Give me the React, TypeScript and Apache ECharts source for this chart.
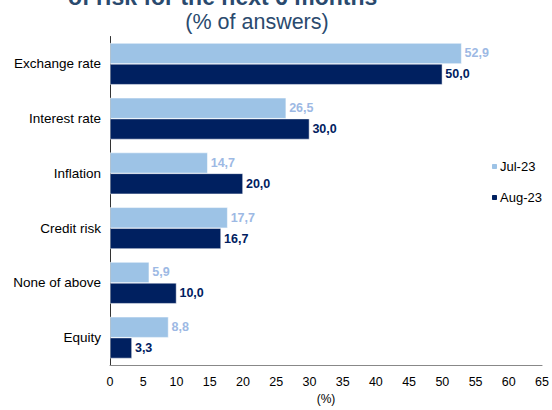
import React, { useEffect, useRef } from "react";
import * as echarts from "echarts";

const categories = ["Exchange rate", "Interest rate", "Inflation", "Credit risk", "None of above", "Equity"];
const jul23 = [52.9, 26.5, 14.7, 17.7, 5.9, 8.8];
const aug23 = [50.0, 30.0, 20.0, 16.7, 10.0, 3.3];
const seriesNames = ["Jul-23", "Aug-23"];
const titleLine1 = "of risk for the next 6 months";
const titleLine2 = "(% of answers)";

const fmt = (p: any) => Number(p.value).toFixed(1).replace(".", ",");

export default function App() {
  const ref = useRef<HTMLDivElement>(null);
  useEffect(() => {
    const chart = echarts.init(ref.current!, undefined, { renderer: "svg" });
    chart.setOption({
      animation: false,
      textStyle: { fontFamily: "Liberation Sans, Arial, sans-serif" },
      graphic: [
        {
          type: "text",
          left: 258 - 190,
          top: -15,
          style: { text: titleLine1, font: "bold 23px Liberation Sans", fill: "#2a4a6e", width: 380, align: "center" },
        },
        {
          type: "text",
          x: 257,
          y: 11,
          style: { text: titleLine2, font: "21.5px Liberation Sans", fill: "#2a4a6e", align: "center", verticalAlign: "top" },
        },
      ],
      legend: {
        orient: "vertical",
        left: 485,
        top: 155,
        itemWidth: 7,
        itemHeight: 7,
        itemGap: 18,
        textStyle: { fontSize: 13, color: "#000", padding: [0, 0, 0, -3] },
        data: seriesNames,
      },
      grid: { left: 110, right: 8, top: 36.5, bottom: 43.5, containLabel: false },
      xAxis: {
        type: "value",
        min: 0,
        max: 65,
        interval: 5,
        name: "(%)",
        nameLocation: "middle",
        nameGap: 28,
        nameTextStyle: { fontSize: 12, color: "#000" },
        axisLine: { show: true, lineStyle: { color: "#888", width: 1 } },
        axisTick: { show: false },
        splitLine: { show: false },
        axisLabel: { fontSize: 12.5, color: "#000", margin: 10 },
      },
      yAxis: {
        type: "category",
        inverse: true,
        data: categories,
        axisLine: { show: true, lineStyle: { color: "#333", width: 1 } },
        axisTick: { show: false },
        axisLabel: { fontSize: 13.5, color: "#000", margin: 9 },
      },
      series: [
        {
          name: seriesNames[0],
          type: "bar",
          data: jul23,
          barGap: "0%",
          barCategoryGap: "24%",
          itemStyle: { color: "#9DC3E6", borderColor: "#fff", borderWidth: 0.5 },
          label: { show: true, position: "right", distance: 3, formatter: fmt, fontSize: 12.5, fontWeight: "bold", color: "#9DB9E4" },
        },
        {
          name: seriesNames[1],
          type: "bar",
          data: aug23,
          barGap: "0%",
          barCategoryGap: "24%",
          itemStyle: { color: "#002060", borderColor: "#fff", borderWidth: 0.5 },
          label: { show: true, position: "right", distance: 3, formatter: fmt, fontSize: 12.5, fontWeight: "bold", color: "#002060" },
        },
      ],
    });
    return () => chart.dispose();
  }, []);
  return <div ref={ref} style={{ width: 552, height: 410, position: "absolute", left: 0, top: 0 }} />;
}
